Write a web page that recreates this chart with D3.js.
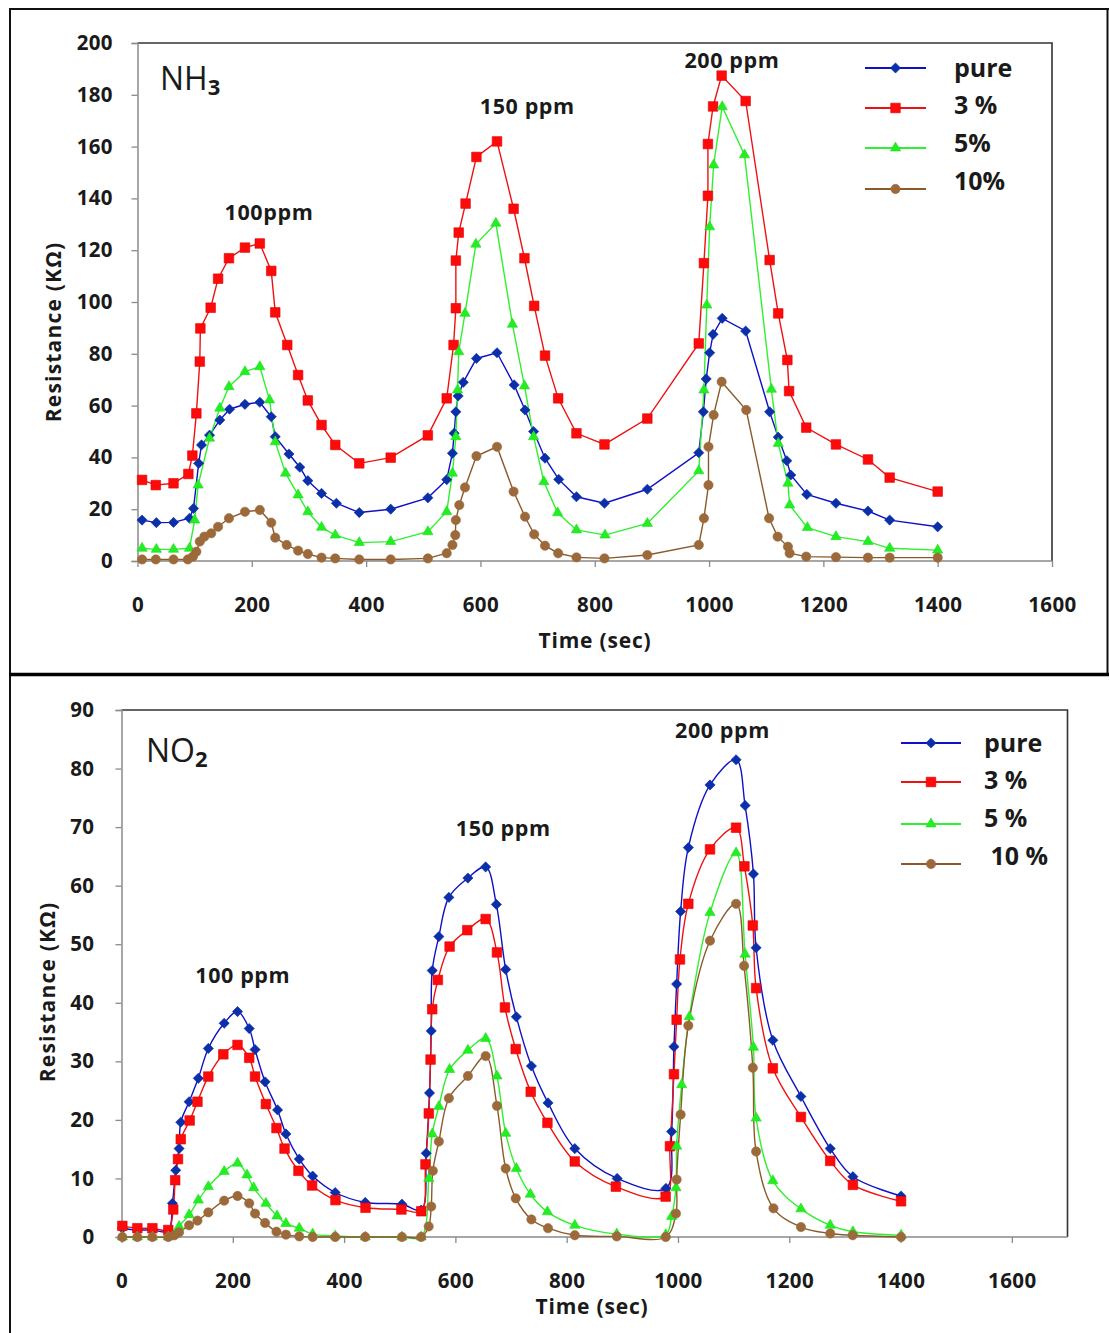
<!DOCTYPE html>
<html><head><meta charset="utf-8">
<script src="https://cdn.jsdelivr.net/npm/d3@7"></script>
<style>
html,body{margin:0;padding:0;background:#fff;}
svg text{font-family:"Open Sans","Liberation Sans",sans-serif;fill:#1a1a1a;}
</style></head>
<body>
<svg id="chart" width="1109" height="1333"></svg>
<script>
// ---------- DATA ----------
const seriesNamesNH3 = ["pure", "3 %", "5%", "10%"];
const seriesNamesNO2 = ["pure", "3 %", "5 %", " 10 %"];
const xTickValues = [0, 200, 400, 600, 800, 1000, 1200, 1400, 1600];
const yTicksNH3 = [0, 20, 40, 60, 80, 100, 120, 140, 160, 180, 200];
const yTicksNO2 = [0, 10, 20, 30, 40, 50, 60, 70, 80, 90];
const peakLabelsNH3 = [["100ppm", 230, 131.5], ["150 ppm", 682, 172.5], ["200 ppm", 1040, 190.5]];
const peakLabelsNO2 = [["100 ppm", 218, 43.4], ["150 ppm", 686, 68.4], ["200 ppm", 1080, 85.3]];

// NH3 panel: [time (sec), resistance (kOhm)]
const nh3Pure = [[8,15.8],[33,14.8],[63,14.9],[91,16.5],[98,20.3],[107,37.7],[112,44.8],[126,48.6],[144,54.4],[161,58.6],[188,60.5],[214,61.3],[234,55.7],[241,48],[265,41.3],[284,36.2],[298,31],[322,26.1],[348,22.3],[388,18.7],[443,20],[508,24.4],[541,31.4],[551,41.6],[554,49.3],[557,57.6],[561,63.7],[570,69],[593,78.2],[629,80.4],[659,68],[678,58.3],[693,50],[713,39.7],[737,31.5],[768,24.8],[817,22.3],[892,27.7],[982,41.8],[990,57.6],[995,70.3],[1001,80.4],[1007,87.5],[1023,93.7],[1064,88.8],[1106,57.6],[1121,47.8],[1136,38.7],[1143,33.2],[1171,25.7],[1222,22.3],[1278,19.3],[1316,15.8],[1400,13.2]];
const nh3P3 = [[8,31.3],[32,29.3],[63,30],[89,33.6],[96,40.7],[103,57],[109,77],[110,89.8],[128,97.8],[141,109],[160,116.9],[188,121],[214,122.6],[234,112],[241,96],[262,83.4],[281,71.8],[298,62],[322,52.5],[346,44.8],[388,37.7],[443,39.9],[508,48.5],[541,62.8],[553,83.4],[557,97.6],[557,116],[562,126.8],[574,138],[593,156],[629,162],[658,136],[677,116.9],[694,98.5],[713,79.3],[736,62.8],[768,49.3],[817,45],[892,55],[982,84],[991,115],[998,141],[998,161],[1007,175.5],[1022,187.4],[1064,177.6],[1106,116.2],[1121,95.6],[1137,77.6],[1140,65.6],[1170,51.5],[1222,45],[1278,39.2],[1316,32.2],[1400,26.8]];
const nh3P5 = [[8,4.9],[33,4.5],[63,4.5],[91,4.9],[100,15.8],[106,29.3],[126,47.4],[144,59],[160,67.3],[188,73.1],[214,75],[231,62.2],[241,46],[259,33.9],[281,25.5],[298,19],[322,13],[346,10],[388,7.1],[443,7.5],[508,11.3],[541,19],[551,33.9],[557,48],[560,66],[562,80.8],[573,95.6],[592,122.3],[627,130.4],[656,91.4],[677,67.6],[693,48],[711,30.6],[735,18.6],[768,12],[818,10],[892,14.5],[982,34.8],[991,66],[996,98.8],[1001,129],[1008,152.9],[1023,175.4],[1062,156.8],[1109,66.3],[1121,45.4],[1138,30],[1141,21.6],[1172,12.9],[1222,9.4],[1278,7.5],[1316,4.9],[1400,4.2]];
const nh3P10 = [[8,0.6],[32,0.6],[63,0.6],[88,0.6],[97,1.7],[103,3.6],[109,7.5],[117,9.4],[129,10.7],[141,13.2],[160,16.5],[188,19],[214,19.7],[234,14.8],[241,9],[261,6.2],[281,4],[298,2.7],[322,1.3],[346,1],[388,0.6],[443,0.6],[508,1],[541,3],[551,6.2],[556,10],[557,15.8],[563,21.6],[573,28.4],[593,40.5],[629,44.1],[658,26.8],[678,17.1],[694,10.3],[713,5.9],[736,3],[768,1.4],[817,1],[892,2.3],[982,6.2],[991,16.5],[999,29.3],[999,44.1],[1008,56.4],[1022,69.2],[1065,58.3],[1105,16.5],[1120,9.4],[1138,5.5],[1141,3],[1170,1.7],[1222,1.5],[1278,1.3],[1316,1.3],[1400,1.3]];

// NO2 panel: [time (sec), resistance (kOhm)]
const no2Pure = [[1.5,1.5],[28.5,1.2],[55.5,1.2],[84,1.0],[91.5,5.75],[97.5,11.4],[103.5,15.1],[106.5,19.6],[121.5,23.1],[138,27.1],[156,32.2],[184.5,36.5],[208.5,38.5],[229.5,35.6],[240,32],[258,26.5],[280.5,21.7],[295.5,17.6],[319.5,13.3],[343.5,10.4],[384,7.6],[438,5.9],[504,5.6],[538.5,4.6],[547.6,14.3],[553.5,24.6],[556.6,35.2],[558.4,45.5],[570.3,51.3],[588.3,58],[622.5,61.3],[654.4,63.2],[673.6,56.8],[690.4,45.7],[709.6,37.6],[736.6,29.2],[766.5,22.9],[814.6,15.1],[890.7,10],[978.4,8.3],[988.6,18],[992.8,32.5],[997.6,43.2],[1004.8,55.6],[1018.6,66.5],[1057.6,77.2],[1104.4,81.5],[1120.6,73.7],[1135.6,62],[1140.4,49.4],[1170.5,33.6],[1220.9,24],[1273.6,15.1],[1314.4,10.3],[1400.9,7]];
const no2P3 = [[1.5,1.9],[28.5,1.5],[55.5,1.5],[84,1.2],[93,4.7],[96.5,9.7],[101.5,13.3],[106.5,16.7],[122.5,19.9],[136.5,23.1],[156,27.4],[183,31.2],[208.5,32.8],[229.5,30.6],[240,27.4],[259.5,22.7],[278.5,18.6],[293,15.1],[318,11.3],[342.5,8.8],[384.5,6.3],[438.5,5],[503,4.7],[538.6,4.4],[546.3,12.4],[552.3,21.1],[555.4,30.3],[558.4,38.9],[568.5,43.9],[589.6,49.6],[621.4,52.4],[654.4,54.3],[674.7,48.6],[689.1,39.2],[708.4,32.1],[735.4,24.8],[765.4,19.5],[814.6,12.9],[888.4,8.6],[977.8,6.9],[985.6,15.5],[992.8,27.8],[997.6,37.1],[1003.6,47.4],[1018.6,56.9],[1057.6,66.2],[1104.4,69.9],[1119.4,63.3],[1134.5,53.2],[1140.4,42.5],[1170.5,28.8],[1220.9,20.5],[1273.6,13],[1314.4,8.9],[1400.9,6.1]];
const no2P5 = [[1.5,0],[28.5,0],[55.5,0],[84,0],[95,0.4],[103.5,1.8],[121.5,3.8],[138,6.3],[156,8.6],[184.5,11.2],[208.5,12.6],[225.5,10.6],[237.5,8.4],[259.5,5.75],[279.5,3.6],[295.5,2.3],[319.5,1.5],[343.5,0.5],[384,0.2],[438,0],[504,0],[538.5,0],[552.3,10],[558.4,17.6],[570.3,22.3],[589.6,28.6],[622.5,31.9],[654.4,33.9],[674.7,27.5],[690.4,17.7],[709.6,11.7],[734.8,7.3],[765.4,4.3],[814.6,2],[890,0.5],[978,0.4],[988.6,3.5],[996.4,8.4],[997.6,15.5],[1006.6,26],[1020.4,37.6],[1057.6,55.4],[1104.4,65.6],[1120.6,48.3],[1135.6,32.4],[1140.4,20.3],[1170.5,9.6],[1220.9,4.8],[1273.6,2],[1314.4,0.9],[1401,0.3]];
const no2P10 = [[1.5,0],[28.5,0],[55.5,0],[84,0],[95,0.3],[103.5,0.8],[121.5,2],[136.5,2.8],[156,4.2],[184.5,6.2],[208.5,7],[229.5,5.75],[240,4],[258,2.4],[278.5,0.9],[295.5,0.4],[319.5,0.1],[343.5,0],[384,0],[438,0],[504,0],[538.5,0],[552,1.8],[556.6,5.2],[559.5,11.3],[570.3,16.3],[588.3,23.7],[622.5,27.5],[654.4,30.9],[674.7,22.4],[690.4,11.7],[708.4,6.6],[736.6,3],[766.5,1.5],[814.6,0.3],[890,0.1],[978,0],[996.4,4],[997.6,9.8],[1004.8,20.9],[1018.6,36.1],[1057.6,50.6],[1104.4,56.9],[1118.8,46.3],[1134.5,28.9],[1140.4,14.6],[1171.6,4.9],[1221,1.7],[1273.6,0.6],[1314,0.3],[1401,0]];

// ---------- STYLE ----------
const styles = [
  {line:"#1010c8", fill:"#0a2fa8", stroke:"#0a2fa8", shape:"diamond"},
  {line:"#f01010", fill:"#ff0a0a", stroke:"#e00000", shape:"square"},
  {line:"#30f030", fill:"#22ee22", stroke:"#22dd22", shape:"triangle"},
  {line:"#8b5a2b", fill:"#9c6a3a", stroke:"#9c6a3a", shape:"circle"}
];

const svg = d3.select("#chart");

// Frames
svg.append("rect").attr("x",0).attr("y",0).attr("width",1109).attr("height",1333).attr("fill","#fff");
svg.append("line").attr("x1",9).attr("x2",1109).attr("y1",9).attr("y2",9).attr("stroke","#111").attr("stroke-width",2);
svg.append("line").attr("x1",10).attr("x2",10).attr("y1",8).attr("y2",1333).attr("stroke","#111").attr("stroke-width",2);
svg.append("line").attr("x1",1107.5).attr("x2",1107.5).attr("y1",8).attr("y2",674).attr("stroke","#111").attr("stroke-width",2);
svg.append("line").attr("x1",9).attr("x2",1109).attr("y1",674.5).attr("y2",674.5).attr("stroke","#000").attr("stroke-width",3.5);

function symbolPath(shape){
  if(shape==="diamond") return d3.symbol().type(d3.symbolSquare).size(52)();
  if(shape==="square") return d3.symbol().type(d3.symbolSquare).size(92)();
  if(shape==="triangle") return d3.symbol().type(d3.symbolTriangle).size(46)();
  return d3.symbol().type(d3.symbolCircle).size(68)();
}

function drawPanel(p){
  const g = svg.append("g");
  const x = d3.scaleLinear().domain([0, p.xMax]).range([p.left, p.right]);
  const y = d3.scaleLinear().domain([0, p.yMax]).range([p.bottom, p.top]);

  // plot border (top/right dark)
  g.append("path").attr("d",`M${p.left},${p.top}H${p.right}V${p.bottom}`)
    .attr("fill","none").attr("stroke","#333").attr("stroke-width",1.6);

  // axes
  const ax = g.append("g").attr("transform",`translate(0,${p.bottom})`)
    .call(d3.axisBottom(x).tickValues(xTickValues).tickSize(6).tickPadding(30).tickFormat(d3.format("d")));
  const ay = g.append("g").attr("transform",`translate(${p.left},0)`)
    .call(d3.axisLeft(y).tickValues(p.yTicks).tickSize(6).tickPadding(p.yPad).tickFormat(d3.format("d")));
  [ax, ay].forEach(a=>{
    a.select(".domain").attr("stroke","#8a8a8a").attr("stroke-width",1.5);
    a.selectAll(".tick line").attr("stroke","#8a8a8a").attr("stroke-width",1.3);
    a.selectAll(".tick text").attr("font-size",20.5).attr("font-weight",700)
      .attr("font-family","'Open Sans',sans-serif").attr("fill","#1a1a1a")
      .attr("letter-spacing",0.4);
  });
  ax.select(".domain").attr("d",`M${p.left},0H${p.right}`);
  ax.selectAll(".tick line").attr("y1",0);

  // axis titles
  g.append("text").attr("x",p.xTitleX).attr("y",p.xTitleY).attr("text-anchor","middle")
    .attr("font-size",21).attr("font-weight",700).attr("letter-spacing",0.8).text("Time (sec)");
  g.append("text").attr("transform",`translate(${p.yTitleX},${p.yTitleY}) rotate(-90)`)
    .attr("text-anchor","middle").attr("font-size",21).attr("font-weight",700)
    .attr("letter-spacing",1.2).text("Resistance (KΩ)");

  // gas label
  const gt = g.append("text").attr("x",p.gasX).attr("y",p.gasY).attr("font-size",32)
    .attr("font-family","'Open Sans',sans-serif").attr("fill","#111");
  gt.append("tspan").text(p.gas[0]);
  gt.append("tspan").attr("font-size",22).attr("dy",5).attr("font-weight",700).text(p.gas[1]);

  // peak labels
  p.peaks.forEach(pk=>{
    g.append("text").attr("x",x(pk[1])).attr("y",y(pk[2])).attr("text-anchor","middle")
      .attr("font-size",21.5).attr("font-weight",700).attr("letter-spacing",0.6).text(pk[0]);
  });

  // series
  const line = d3.line().x(d=>x(d[0])).y(d=>y(d[1])).curve(p.curve);
  p.series.forEach((s,i)=>{
    const st = styles[i];
    g.append("path").datum(s).attr("d",line).attr("fill","none")
      .attr("stroke",st.line).attr("stroke-width",1.4);
  });
  p.series.forEach((s,i)=>{
    const st = styles[i];
    const path = symbolPath(st.shape);
    g.append("g").selectAll("path").data(s).join("path")
      .attr("d",path)
      .attr("transform",d=>`translate(${x(d[0])},${y(d[1])})${st.shape==="diamond"?" rotate(45)":""}`)
      .attr("fill",st.fill).attr("stroke",st.stroke).attr("stroke-width",0.6);
  });

  // legend
  p.names.forEach((nm,i)=>{
    const st = styles[i];
    const ly = p.legLineY[i];
    g.append("line").attr("x1",p.legX1).attr("x2",p.legX2).attr("y1",ly).attr("y2",ly)
      .attr("stroke",st.line).attr("stroke-width",1.8);
    g.append("path").attr("d",symbolPath(st.shape))
      .attr("transform",`translate(${(p.legX1+p.legX2)/2},${ly})${st.shape==="diamond"?" rotate(45)":""}`)
      .attr("fill",st.fill).attr("stroke",st.stroke).attr("stroke-width",0.6);
    g.append("text").attr("x",p.legTextX).attr("y",p.legTextY[i]).attr("dy","0.35em")
      .attr("font-size",25).attr("font-weight",700).attr("xml:space","preserve").style("white-space","pre").text(nm);
  });
}

drawPanel({
  left:137.5, right:1052, top:43, bottom:561, xMax:1600, yMax:200, yTicks:yTicksNH3, yPad:18.5,
  xTitleX:595, xTitleY:648, yTitleX:61, yTitleY:332,
  gas:["NH","3"], gasX:160, gasY:90,
  peaks:peakLabelsNH3, curve:d3.curveLinear,
  series:[nh3Pure, nh3P3, nh3P5, nh3P10], names:seriesNamesNH3,
  legX1:865, legX2:926, legLineY:[68,108,148,189], legTextX:954, legTextY:[68,105,143,181]
});

drawPanel({
  left:121.5, right:1067.5, top:710, bottom:1237, xMax:1700, yMax:90, yTicks:yTicksNO2, yPad:21,
  xTitleX:592, xTitleY:1314, yTitleX:55, yTitleY:992,
  gas:["NO","2"], gasX:146, gasY:762,
  peaks:peakLabelsNO2, curve:d3.curveCatmullRom.alpha(0.5),
  series:[no2Pure, no2P3, no2P5, no2P10], names:seriesNamesNO2,
  legX1:901, legX2:961, legLineY:[743,782,824,864], legTextX:984, legTextY:[743,780,818,856]
});
</script>
</body></html>
